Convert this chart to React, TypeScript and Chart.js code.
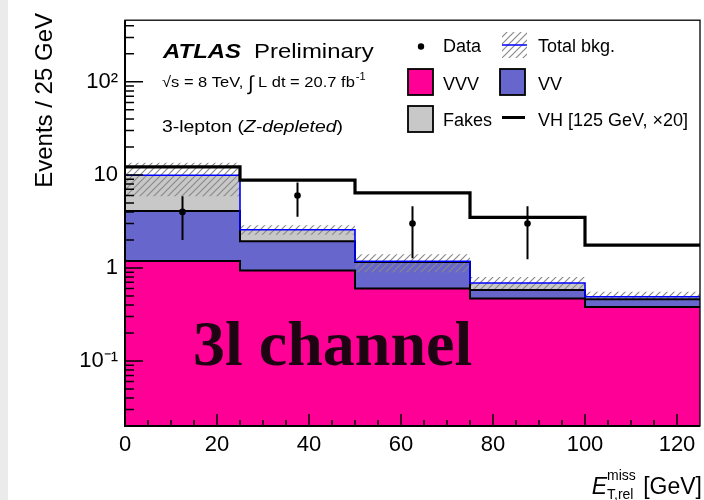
import React, { useEffect, useRef } from "react";
import { Chart, registerables } from "chart.js";

Chart.register(...registerables);

// ---- data ----
const binEdges = [0, 25, 50, 75, 100, 125];
const vvv = [1.19, 0.94, 0.6, 0.47, 0.38];
const vv = [2.91, 1.0, 0.56, 0.11, 0.08];
const fakes = [5.8, 0.63, 0.02, 0.11, 0.03];
const bkgErrUp = [3.6, 0.3, 0.22, 0.11, 0.065];
const bkgErrDown = [4.0, 0.3, 0.28, 0.1, 0.04];
const vh = [12.2, 8.8, 6.4, 3.5, 1.76];
const dataX = [12.5, 37.5, 62.5, 87.5];
const dataY = [4, 6, 3, 3];
const dataErrUp = [1.9, 2.3, 1.6, 1.6];
const dataErrDown = [2.0, 2.45, 1.73, 1.76];

const xMajorTicks = [0, 20, 40, 60, 80, 100, 120];
const xMinorTicks = [5, 10, 15, 25, 30, 35, 45, 50, 55, 65, 70, 75, 85, 90, 95, 105, 110, 115];
const yMajorTicks = [0.1, 1, 10, 100];
const yTickLabels = ["10⁻¹", "1", "10", "10²"];
const yMinorMultipliers = [2, 3, 4, 5, 6, 7, 8, 9];
const yDecades = [0.01, 0.1, 1, 10, 100];

const Y_MIN = 0.02;
const Y_MAX = 460;

const FONT = "'Liberation Sans', Arial, Helvetica, sans-serif";

function steps(vals: number[]) {
  const pts = vals.map((v, i) => ({ x: binEdges[i], y: v }));
  pts.push({ x: binEdges[binEdges.length - 1], y: vals[vals.length - 1] });
  return pts;
}

function makeHatch(): CanvasPattern | string {
  const c = document.createElement("canvas");
  const s = 7;
  c.width = s;
  c.height = s;
  const g = c.getContext("2d");
  if (!g) return "rgba(120,120,120,0.4)";
  g.strokeStyle = "#8a8a8a";
  g.lineWidth = 1.2;
  g.beginPath();
  g.moveTo(-1, s + 1);
  g.lineTo(s + 1, -1);
  g.moveTo(-1, 1);
  g.lineTo(1, -1);
  g.moveTo(s - 1, s + 1);
  g.lineTo(s + 1, s - 1);
  g.stroke();
  const p = g.createPattern(c, "repeat");
  return p || "rgba(120,120,120,0.4)";
}

function txt(
  ctx: CanvasRenderingContext2D,
  s: string,
  x: number,
  y: number,
  font: string,
  sx = 1,
  color = "#000"
) {
  ctx.save();
  ctx.translate(x, y);
  ctx.scale(sx, 1);
  ctx.font = font;
  ctx.fillStyle = color;
  ctx.textBaseline = "alphabetic";
  ctx.textAlign = "left";
  ctx.fillText(s, 0, 0);
  const w = ctx.measureText(s).width * sx;
  ctx.restore();
  return w;
}

const decorPlugin = {
  id: "decor",
  afterDatasetsDraw(chart: any) {
    const ctx: CanvasRenderingContext2D = chart.ctx;
    const xs = chart.scales.x;
    const ys = chart.scales.y;
    const a = chart.chartArea;
    ctx.save();
    ctx.strokeStyle = "#000";
    // ticks
    ctx.lineWidth = 1.5;
    ctx.beginPath();
    xMajorTicks.forEach((v) => {
      const px = xs.getPixelForValue(v);
      ctx.moveTo(px, a.bottom);
      ctx.lineTo(px, a.bottom - 12);
    });
    xMinorTicks.forEach((v) => {
      const px = xs.getPixelForValue(v);
      ctx.moveTo(px, a.bottom);
      ctx.lineTo(px, a.bottom - 6);
    });
    yMajorTicks.forEach((v) => {
      const py = ys.getPixelForValue(v);
      ctx.moveTo(a.left, py);
      ctx.lineTo(a.left + 18, py);
    });
    yDecades.forEach((d) => {
      yMinorMultipliers.forEach((m) => {
        const v = d * m;
        if (v < Y_MIN || v > Y_MAX) return;
        const py = ys.getPixelForValue(v);
        ctx.moveTo(a.left, py);
        ctx.lineTo(a.left + 9, py);
      });
    });
    ctx.stroke();
    // frame
    ctx.lineWidth = 1.3;
    ctx.strokeRect(a.left, a.top, a.right - a.left, a.bottom - a.top);
    ctx.lineWidth = 2;
    ctx.beginPath();
    ctx.moveTo(a.left, a.top);
    ctx.lineTo(a.left, a.bottom);
    ctx.lineTo(a.right, a.bottom);
    ctx.stroke();
    ctx.restore();

    // "3l channel" overlay
    txt(ctx, "3l channel", 193, 365, "bold 64px 'Liberation Serif', 'Times New Roman', serif", 1, "#1e0413");

    // ATLAS label
    const w1 = txt(ctx, "ATLAS", 163, 58, `italic bold 21px ${FONT}`, 1.14);
    txt(ctx, "Preliminary", 163 + w1 + 13, 58, `21px ${FONT}`, 1.14);
    // sqrt s line
    let x = 162;
    x += txt(ctx, "√s = 8 TeV, ", x, 87, `15px ${FONT}`, 1.1);
    x += txt(ctx, "∫", x, 90, `20px ${FONT}`, 1.0);
    x += txt(ctx, " L dt = 20.7 fb", x, 87, `15px ${FONT}`, 1.1);
    txt(ctx, "-1", x + 1, 80, `10px ${FONT}`, 1.1);
    // 3-lepton
    x = 162;
    x += txt(ctx, "3-lepton (", x, 132, `17px ${FONT}`, 1.14);
    x += txt(ctx, "Z-depleted", x, 132, `italic 17px ${FONT}`, 1.14);
    txt(ctx, ")", x, 132, `17px ${FONT}`, 1.14);

    // legend
    const lf = `18px ${FONT}`;
    ctx.save();
    ctx.fillStyle = "#000";
    ctx.beginPath();
    ctx.arc(421, 46.5, 3.2, 0, Math.PI * 2);
    ctx.fill();
    ctx.restore();
    txt(ctx, "Data", 443, 52, lf);
    // total bkg hatch box
    ctx.save();
    ctx.fillStyle = chart.$hatch;
    ctx.fillRect(502, 32, 25, 26);
    ctx.strokeStyle = "#0000ff";
    ctx.lineWidth = 1.5;
    ctx.beginPath();
    ctx.moveTo(502, 45);
    ctx.lineTo(527, 45);
    ctx.stroke();
    ctx.restore();
    txt(ctx, "Total bkg.", 538, 52, lf);
    const box = (bx: number, by: number, col: string) => {
      ctx.save();
      ctx.fillStyle = col;
      ctx.fillRect(bx, by, 25, 26);
      ctx.strokeStyle = "#000";
      ctx.lineWidth = 1.8;
      ctx.strokeRect(bx, by, 25, 26);
      ctx.restore();
    };
    box(408, 69, "#ff0096");
    txt(ctx, "VVV", 443, 90, lf);
    box(500, 69, "#6666cc");
    txt(ctx, "VV", 538, 90, lf);
    box(408, 106, "#c8c8c8");
    txt(ctx, "Fakes", 443, 126, lf);
    ctx.save();
    ctx.strokeStyle = "#000";
    ctx.lineWidth = 3;
    ctx.beginPath();
    ctx.moveTo(502, 117.5);
    ctx.lineTo(525, 117.5);
    ctx.stroke();
    ctx.restore();
    txt(ctx, "VH [125 GeV, ×20]", 538, 126, lf);

    // y title
    ctx.save();
    ctx.translate(52, 13);
    ctx.rotate(-Math.PI / 2);
    ctx.font = `24px ${FONT}`;
    ctx.fillStyle = "#000";
    ctx.textAlign = "right";
    ctx.textBaseline = "alphabetic";
    ctx.fillText("Events / 25 GeV", 0, 0);
    ctx.restore();

    // x title
    ctx.save();
    ctx.font = `23px ${FONT}`;
    const gw = ctx.measureText(" [GeV]").width;
    ctx.restore();
    const xr = 702;
    const gx = xr - gw;
    txt(ctx, " [GeV]", gx, 494, `23px ${FONT}`);
    const subW = (() => {
      ctx.save();
      ctx.font = `14px ${FONT}`;
      const w = Math.max(ctx.measureText("miss").width, ctx.measureText("T,rel").width);
      ctx.restore();
      return w;
    })();
    const sx0 = gx - subW - 1;
    txt(ctx, "miss", sx0, 480, `14px ${FONT}`);
    txt(ctx, "T,rel", sx0, 499, `14px ${FONT}`);
    ctx.save();
    ctx.font = `italic 23px ${FONT}`;
    const ew = ctx.measureText("E").width;
    ctx.restore();
    txt(ctx, "E", sx0 - ew, 494, `italic 23px ${FONT}`);
  },
};

export default function App() {
  const ref = useRef<HTMLCanvasElement | null>(null);
  useEffect(() => {
    document.body.style.margin = "0";
    const canvas = ref.current;
    if (!canvas) return;
    const hatch = makeHatch();

    const cumVV = vvv.map((v, i) => v + vv[i]);
    const total = cumVV.map((v, i) => v + fakes[i]);
    const bandUp = total.map((v, i) => v + bkgErrUp[i]);
    const bandDown = total.map((v, i) => v - bkgErrDown[i]);

    const errPts: any[] = [];
    dataX.forEach((x, i) => {
      errPts.push({ x, y: dataY[i] - dataErrDown[i] });
      errPts.push({ x, y: dataY[i] + dataErrUp[i] });
      errPts.push({ x, y: null });
    });

    const base = {
      pointRadius: 0,
      pointHoverRadius: 0,
      stepped: "before" as const,
    };

    const chart = new Chart(canvas, {
      type: "line",
      data: {
        datasets: [
          // 0 data markers
          {
            data: dataX.map((x, i) => ({ x, y: dataY[i] })),
            showLine: false,
            pointRadius: 3.3,
            pointBackgroundColor: "#000",
            pointBorderColor: "#000",
            pointBorderWidth: 0,
          },
          // 1 error bars
          {
            data: errPts,
            borderColor: "#000",
            borderWidth: 2,
            pointRadius: 0,
            spanGaps: false,
          },
          // 2 VH
          { ...base, data: steps(vh), borderColor: "#000", borderWidth: 3.2, fill: false },
          // 3 total line
          { ...base, data: steps(total), borderColor: "#0000ff", borderWidth: 1.6, fill: false },
          // 4 VV top line
          { ...base, data: steps(cumVV), borderColor: "#000", borderWidth: 2, fill: false },
          // 5 VVV top line
          { ...base, data: steps(vvv), borderColor: "#000", borderWidth: 2, fill: false },
          // 6 hatch upper
          {
            ...base,
            data: steps(bandUp),
            borderWidth: 0,
            borderColor: "rgba(0,0,0,0)",
            backgroundColor: hatch as any,
            fill: 7,
          },
          // 7 hatch lower
          { ...base, data: steps(bandDown), borderWidth: 0, borderColor: "rgba(0,0,0,0)", fill: false },
          // 8 fakes fill
          {
            ...base,
            data: steps(total),
            borderWidth: 0,
            borderColor: "rgba(0,0,0,0)",
            backgroundColor: "#c8c8c8",
            fill: 9,
          },
          // 9 VV fill
          {
            ...base,
            data: steps(cumVV),
            borderWidth: 0,
            borderColor: "rgba(0,0,0,0)",
            backgroundColor: "#6666cc",
            fill: 10,
          },
          // 10 VVV fill
          {
            ...base,
            data: steps(vvv),
            borderWidth: 0,
            borderColor: "rgba(0,0,0,0)",
            backgroundColor: "#ff0096",
            fill: "start",
          },
        ],
      },
      options: {
        responsive: false,
        animation: false,
        layout: { padding: { top: 11, right: 2, left: 0, bottom: 0 } },
        plugins: {
          legend: { display: false },
          tooltip: { enabled: false },
        },
        events: [],
        scales: {
          x: {
            type: "linear",
            min: binEdges[0],
            max: binEdges[binEdges.length - 1],
            grid: { display: false, drawTicks: false },
            border: { display: false },
            ticks: {
              stepSize: 20,
              includeBounds: false,
              padding: 6,
              color: "#000",
              font: { family: FONT, size: 22 },
              maxRotation: 0,
              autoSkip: false,
            },
            afterFit(scale: any) {
              scale.height = 74;
            },
          },
          y: {
            type: "logarithmic",
            min: Y_MIN,
            max: Y_MAX,
            grid: { display: false, drawTicks: false },
            border: { display: false },
            afterBuildTicks(scale: any) {
              scale.ticks = yMajorTicks.map((v) => ({ value: v }));
            },
            ticks: {
              padding: 7,
              color: "#000",
              font: { family: FONT, size: 22 },
              autoSkip: false,
              callback: (v: any) => {
                const i = yMajorTicks.findIndex((t) => Math.abs(t - Number(v)) < t * 1e-6);
                return i >= 0 ? yTickLabels[i] : "";
              },
            },
            afterFit(scale: any) {
              scale.width = 125;
            },
          },
        },
      },
      plugins: [decorPlugin],
    });
    (chart as any).$hatch = hatch;
    chart.draw();
    return () => chart.destroy();
  }, []);

  return (
    <div
      style={{
        width: 704,
        height: 500,
        position: "relative",
        background: "linear-gradient(to right, #ebebeb 0px, #ebebeb 8px, #ffffff 8px)",
      }}
    >
      <canvas ref={ref} width={704} height={500} style={{ width: 704, height: 500, display: "block" }} />
    </div>
  );
}
